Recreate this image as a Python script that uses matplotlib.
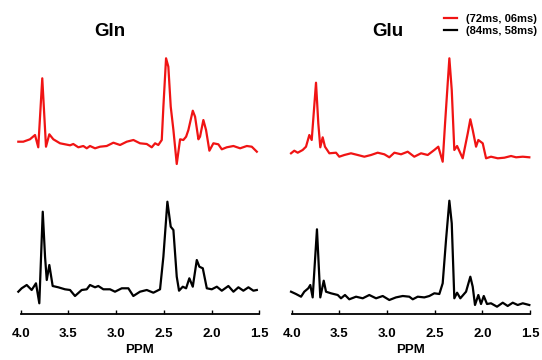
import matplotlib
matplotlib.use('Agg')
import matplotlib.pyplot as plt
import numpy as np

plt.rcParams['font.family'] = ['Liberation Sans', 'DejaVu Sans']

# spectra: chemical shift (ppm) and intensity (a.u.)
gln_red_ppm = [4.025, 3.973, 3.903, 3.850, 3.816, 3.774, 3.735, 3.700, 3.658, 3.588,
               3.483, 3.449, 3.396, 3.344, 3.308, 3.274, 3.221, 3.169, 3.099, 3.029,
               2.959, 2.889, 2.819, 2.750, 2.679, 2.627, 2.592, 2.558, 2.522, 2.505,
               2.477, 2.453, 2.428, 2.400, 2.365, 2.330, 2.296, 2.267, 2.243, 2.197,
               2.173, 2.138, 2.121, 2.086, 2.058, 2.023, 1.981, 1.929, 1.893, 1.841,
               1.771, 1.701, 1.631, 1.579, 1.526]
gln_red_val = [0.3, 0.3, 2.7, 7.0, -5.3, 63.7, -4.7, 7.7, 2.7, -1.3,
               -3.3, -2.0, -5.3, -4.0, -6.3, -4.0, -6.3, -4.7, -4.0, -0.7,
               -3.0, 0.3, 2.0, -1.3, -2.0, -5.3, -1.3, -3.0, 2.0, 35.3,
               83.7, 75.3, 35.3, 12.0, -22.0, 2.7, 2.0, 5.3, 12.0, 31.3,
               25.3, 2.7, 5.3, 22.0, 12.0, -8.7, -1.3, -2.3, -7.3, -5.3,
               -4.0, -6.3, -4.0, -4.7, -9.7]

gln_black_ppm = [4.025, 3.990, 3.937, 3.885, 3.840, 3.805, 3.769, 3.745, 3.727, 3.700,
                 3.665, 3.606, 3.536, 3.483, 3.431, 3.361, 3.308, 3.274, 3.221, 3.187,
                 3.134, 3.064, 3.012, 2.941, 2.872, 2.820, 2.750, 2.679, 2.610, 2.540,
                 2.505, 2.463, 2.428, 2.400, 2.365, 2.341, 2.302, 2.267, 2.233, 2.197,
                 2.155, 2.128, 2.092, 2.050, 1.998, 1.945, 1.893, 1.824, 1.771, 1.719,
                 1.667, 1.614, 1.562, 1.526]
gln_black_val = [-1.7, 1.7, 5.0, 0.0, 6.7, -13.3, 78.3, 33.3, 10.0, 25.0,
                 4.0, 2.7, 0.7, 0.0, -6.0, 0.0, 0.7, 5.0, 2.7, 4.0,
                 0.7, 0.7, -1.7, 1.7, 1.7, -6.0, -1.7, 0.0, -2.7, 0.7,
                 33.3, 88.3, 63.3, 60.0, 13.3, -0.7, 3.3, 1.7, 11.7, 3.3,
                 30.0, 23.3, 21.7, 1.7, 0.7, 3.3, -0.7, 4.0, -1.7, 2.7,
                 -0.7, 2.7, -0.7, 0.0]

glu_red_ppm = [4.007, 3.973, 3.937, 3.885, 3.850, 3.815, 3.790, 3.745, 3.721, 3.700,
               3.675, 3.651, 3.605, 3.535, 3.501, 3.448, 3.378, 3.307, 3.238, 3.168,
               3.098, 3.028, 2.976, 2.923, 2.853, 2.783, 2.714, 2.643, 2.573, 2.504,
               2.462, 2.416, 2.391, 2.346, 2.321, 2.294, 2.265, 2.206, 2.153, 2.126,
               2.101, 2.066, 2.042, 1.996, 1.961, 1.909, 1.838, 1.769, 1.699, 1.646,
               1.576, 1.507]
glu_red_val = [-0.3, 2.3, 0.3, 3.0, 6.3, 18.0, 13.0, 70.3, 29.7, 5.7,
               15.7, 6.3, -0.3, 0.3, -3.7, -2.0, -0.3, -2.0, -3.7, -2.0,
               0.3, -1.3, -4.3, 0.3, -1.3, 1.3, -3.7, -0.3, -2.0, 3.0,
               6.3, -8.7, 29.7, 94.7, 63.0, 3.0, 7.0, -5.3, 19.7, 33.7,
               23.0, 6.3, 13.0, 9.7, -5.3, -3.7, -5.3, -4.7, -3.0, -4.3,
               -3.7, -4.3]

glu_black_ppm = [4.007, 3.955, 3.902, 3.868, 3.826, 3.805, 3.780, 3.735, 3.700, 3.664,
                 3.640, 3.588, 3.517, 3.483, 3.441, 3.396, 3.325, 3.255, 3.186, 3.115,
                 3.045, 2.976, 2.906, 2.835, 2.766, 2.730, 2.678, 2.609, 2.556, 2.504,
                 2.451, 2.416, 2.381, 2.346, 2.321, 2.294, 2.265, 2.231, 2.171, 2.126,
                 2.101, 2.077, 2.042, 2.014, 1.985, 1.951, 1.909, 1.846, 1.786, 1.734,
                 1.681, 1.629, 1.576, 1.507]
glu_black_val = [5.0, 2.7, 0.0, 5.0, 8.4, 11.7, -0.7, 67.4, -0.7, 16.0,
                 5.0, 3.4, 1.7, -1.6, 1.7, -2.6, 0.0, -1.6, 1.7, -1.6,
                 0.7, -3.3, -0.7, 0.7, 0.0, -2.6, 0.0, -0.7, 0.7, 3.4,
                 2.7, 13.4, 56.7, 96.0, 73.4, -1.6, 4.0, -1.6, 5.0, 20.0,
                 10.0, -8.3, 1.7, -7.3, 0.7, -7.3, -6.6, -10.0, -6.0, -9.3,
                 -6.0, -8.3, -6.6, -8.3]

labels = ['(72ms, 06ms)', '(84ms, 58ms)']
titles = ['Gln', 'Glu']
ppm_ticks = [4.0, 3.5, 3.0, 2.5, 2.0, 1.5]

RED = '#f01414'
W, H = 542, 360
fig = plt.figure(figsize=(W / 100, H / 100), dpi=100)

panels = [
    (gln_red_ppm, gln_red_val, gln_black_ppm, gln_black_val, 20.7, 259.3, 172, 24),
    (glu_red_ppm, glu_red_val, glu_black_ppm, glu_black_val, 291.7, 530.0, 161, 17.3),
]
title_x = [110, 388]

for i, (rp, rv, bp, bv, x0, x1, roff, boff) in enumerate(panels):
    ax = fig.add_axes([x0 / W, 1 - 314 / H, (x1 - x0) / W, 274 / H])
    l1, = ax.plot(rp, np.array(rv) + roff, color=RED, lw=1.6, clip_on=False,
                  solid_joinstyle='round')
    l2, = ax.plot(bp, np.array(bv) + boff, color='black', lw=1.6, clip_on=False,
                  solid_joinstyle='round')
    ax.set_xlim(4.0, 1.5)
    ax.set_ylim(0, 274)
    for s in ['left', 'right', 'top']:
        ax.spines[s].set_visible(False)
    ax.spines['bottom'].set_linewidth(1.3)
    ax.set_yticks([])
    ax.set_xticks(ppm_ticks)
    ax.set_xticklabels([f'{t:.1f}' for t in ppm_ticks], fontsize=9.5, fontweight='bold')
    ax.tick_params(axis='x', direction='in', length=3, width=1, pad=10)
    ax.set_xlabel('PPM', fontsize=9.5, fontweight='bold', labelpad=3)
    ax.patch.set_alpha(0)
    fig.text(title_x[i] / W, 1 - 31 / H, titles[i], fontsize=13.5, fontweight='bold',
             ha='center', va='center')

fig.legend([l1, l2], labels, loc='upper left', bbox_to_anchor=(444 / W, 1 - 14 / H),
           frameon=False, prop={'weight': 'bold', 'size': 8},
           handlelength=1.2, handletextpad=0.75, labelspacing=0.2,
           borderpad=0, borderaxespad=0)

fig.savefig('out.png', dpi=100)
